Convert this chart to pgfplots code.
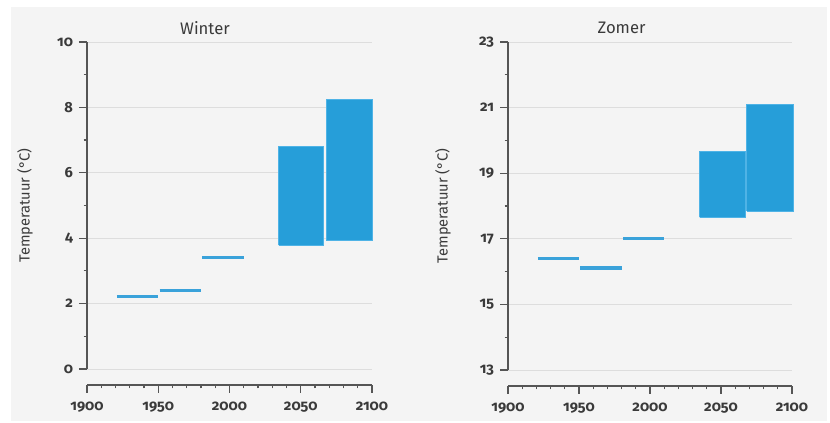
\documentclass[border=0pt]{standalone}
\usepackage{pgfplots}
\pgfplotsset{compat=1.18}
\usepackage{fontspec}
\setmainfont[Numbers=OldStyle]{Fira Sans}
\definecolor{bg}{HTML}{F4F4F4}
\definecolor{barblue}{HTML}{269ED9}
\definecolor{baredge}{HTML}{4FB3E6}
\definecolor{lineblue}{HTML}{3AA2DA}
\definecolor{axisgray}{HTML}{555555}
\definecolor{gridgray}{HTML}{DDDDDD}
\definecolor{txt}{HTML}{3A3A3A}
\pgfplotsset{
  panel/.style={
    scale only axis,
    anchor=south west,
    axis x line=bottom,
    axis y line=left,
    separate axis lines,
    axis x line shift=12pt,
    axis line style={axisgray, line width=1.3pt, -},
    xmin=1900, xmax=2100,
    xtick={1900,1950,2000,2050,2100},
    minor x tick num=4,
    ymajorgrids,
    grid style={gridgray, line width=0.6pt},
    minor y tick num=1,
    tick style={axisgray, line width=0.9pt},
    tick align=outside,
    major tick length=6pt,
    minor tick length=2.5pt,
    /pgf/number format/assume math mode=true,
    /pgf/number format/1000 sep={},
    ticklabel style={font=\fontsize{11}{13}\selectfont\bfseries, text=txt},
    xticklabel style={yshift=-3pt},
    yticklabel style={xshift=-1pt},
    every axis y label/.style={at={(rel axis cs:0,0.5)}, rotate=90, anchor=center, font=\fontsize{11}{13}\selectfont, text=txt},
    every axis title/.style={anchor=center, font=\fontsize{12.5}{14}\selectfont, text=txt},
    clip=false,
  },
  linebar/.style={lineblue, line width=2.4pt},
  boxbar/.style={fill=barblue, draw=baredge, line width=0.6pt},
}
\begin{document}
\begin{tikzpicture}
\path[use as bounding box] (0,0) rectangle (622.5pt,317.25pt);
\fill[bg] (8.25pt,1.5pt) rectangle (620.25pt,312pt);
% Winter
\begin{axis}[panel,
  at={(65.25pt,40.5pt)}, width=213.75pt, height=245.25pt,
  ymin=0, ymax=10, ytick={0,2,4,6,8,10},
  title={Winter}, title style={at={(rel axis cs:0.414,1)}, yshift=10.5pt},
  ylabel={Temperatuur (°C)}, ylabel style={yshift=46.5pt},
]
\addplot[linebar] coordinates {(1921,2.22) (1950,2.22)};
\addplot[linebar] coordinates {(1951,2.4) (1980,2.4)};
\addplot[linebar] coordinates {(1981,3.4) (2010,3.4)};
\addplot[boxbar] coordinates {(2034.5,3.79) (2066,3.79) (2066,6.81) (2034.5,6.81) (2034.5,3.79)};
\addplot[boxbar] coordinates {(2068,3.93) (2100,3.93) (2100,8.23) (2068,8.23) (2068,3.93)};
\end{axis}
% Zomer
\begin{axis}[panel,
  at={(381pt,39.75pt)}, width=213pt, height=246pt,
  ymin=13, ymax=23, ytick={13,15,17,19,21,23},
  title={Zomer}, title style={at={(rel axis cs:0.40,1)}, yshift=10.5pt},
  ylabel={Temperatuur (°C)}, ylabel style={yshift=48.75pt},
]
\addplot[linebar] coordinates {(1921,16.41) (1950,16.41)};
\addplot[linebar] coordinates {(1951,16.11) (1980,16.11)};
\addplot[linebar] coordinates {(1981,17.0) (2010,17.0)};
\addplot[boxbar] coordinates {(2035,17.65) (2067,17.65) (2067,19.67) (2035,19.67) (2035,17.65)};
\addplot[boxbar] coordinates {(2068,17.85) (2101,17.85) (2101,21.09) (2068,21.09) (2068,17.85)};
\end{axis}
\end{tikzpicture}
\end{document}
